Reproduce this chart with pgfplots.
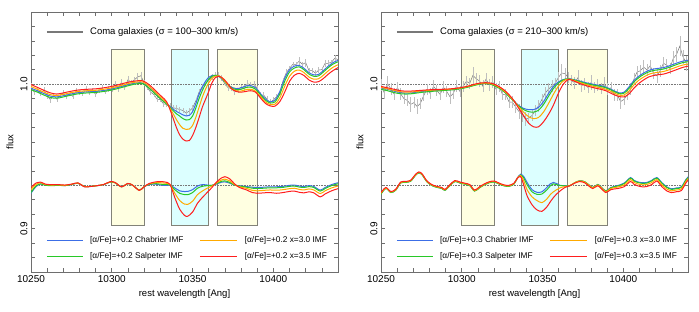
\documentclass[border=0pt]{standalone}
\usepackage{fontspec}
\setmainfont{Liberation Sans}
\usepackage{pgfplots}
\usepackage{pgfplotstable}
\pgfplotsset{compat=1.18}
\definecolor{mblue}{RGB}{60,110,230}
\definecolor{mgreen}{RGB}{40,200,40}
\definecolor{morange}{RGB}{255,170,0}
\definecolor{mred}{RGB}{255,30,30}
\definecolor{dgray}{RGB}{120,120,120}
\definecolor{egray}{RGB}{190,190,190}
\definecolor{yfill}{RGB}{255,255,225}
\definecolor{cfill}{RGB}{220,255,255}
\definecolor{redge}{RGB}{130,130,120}
\definecolor{framecol}{RGB}{110,110,110}

\pgfplotstableread{
x b g o r
10250 0.9972 0.9962 0.9985 0.9998
10254 0.9955 0.9945 0.9965 0.9978
10258 0.9935 0.9925 0.9945 0.9958
10262 0.9918 0.9908 0.9928 0.9940
10266 0.9912 0.9903 0.9922 0.9932
10270 0.9920 0.9912 0.9930 0.9940
10275 0.9933 0.9925 0.9942 0.9952
10280 0.9943 0.9935 0.9951 0.9961
10285 0.9947 0.9940 0.9955 0.9965
10290 0.9950 0.9943 0.9958 0.9968
10295 0.9957 0.9950 0.9965 0.9975
10300 0.9967 0.9960 0.9975 0.9985
10304 0.9978 0.9971 0.9986 0.9996
10308 0.9990 0.9983 0.9998 1.0008
10312 1.0002 0.9995 1.0009 1.0018
10316 1.0010 1.0004 1.0016 1.0024
10319 1.0008 1.0004 1.0016 1.0024
10322 0.9985 0.9982 0.9996 1.0006
10325 0.9955 0.9952 0.9966 0.9978
10328 0.9922 0.9920 0.9933 0.9945
10331 0.9893 0.9890 0.9902 0.9913
10334 0.9865 0.9862 0.9870 0.9878
10337 0.9835 0.9828 0.9815 0.9795
10340 0.9812 0.9795 0.9755 0.9700
10342 0.9800 0.9780 0.9720 0.9650
10344 0.9788 0.9762 0.9695 0.9620
10346 0.9780 0.9752 0.9687 0.9607
10348 0.9785 0.9755 0.9690 0.9610
10350 0.9810 0.9780 0.9715 0.9645
10352 0.9865 0.9835 0.9770 0.9700
10354 0.9930 0.9900 0.9840 0.9768
10356 0.9980 0.9955 0.9910 0.9840
10358 1.0020 1.0000 0.9965 0.9895
10360 1.0048 1.0035 1.0010 0.9950
10362 1.0060 1.0055 1.0040 1.0010
10364 1.0062 1.0062 1.0055 1.0045
10366 1.0055 1.0058 1.0058 1.0055
10368 1.0038 1.0042 1.0045 1.0048
10371 1.0005 1.0005 1.0008 1.0015
10374 0.9980 0.9975 0.9970 0.9970
10377 0.9970 0.9963 0.9955 0.9950
10380 0.9975 0.9965 0.9953 0.9945
10383 0.9988 0.9977 0.9962 0.9950
10386 0.9990 0.9980 0.9965 0.9955
10389 0.9975 0.9965 0.9952 0.9945
10392 0.9935 0.9927 0.9915 0.9905
10395 0.9898 0.9890 0.9878 0.9868
10398 0.9878 0.9870 0.9860 0.9850
10401 0.9890 0.9878 0.9862 0.9848
10404 0.9950 0.9932 0.9905 0.9880
10407 1.0040 1.0020 0.9985 0.9945
10410 1.0100 1.0085 1.0055 1.0020
10413 1.0125 1.0112 1.0090 1.0062
10416 1.0130 1.0120 1.0098 1.0075
10419 1.0110 1.0100 1.0080 1.0060
10422 1.0080 1.0070 1.0050 1.0030
10425 1.0065 1.0055 1.0035 1.0015
10428 1.0068 1.0058 1.0038 1.0018
10431 1.0095 1.0085 1.0063 1.0040
10434 1.0125 1.0115 1.0093 1.0070
10437 1.0150 1.0140 1.0118 1.0095
10440 1.0165 1.0155 1.0135 1.0115
}\LU

\pgfplotstableread{
x b g o r
10250 0.9245 0.9250 0.9270 0.9285
10253 0.9290 0.9295 0.9305 0.9315
10256 0.9310 0.9310 0.9318 0.9322
10259 0.9302 0.9300 0.9305 0.9308
10263 0.9300 0.9298 0.9302 0.9305
10267 0.9302 0.9300 0.9303 0.9305
10271 0.9298 0.9298 0.9300 0.9302
10275 0.9305 0.9305 0.9307 0.9308
10279 0.9315 0.9315 0.9316 0.9317
10283 0.9292 0.9292 0.9292 0.9290
10287 0.9293 0.9293 0.9293 0.9292
10291 0.9298 0.9298 0.9298 0.9298
10295 0.9305 0.9305 0.9306 0.9306
10299 0.9323 0.9323 0.9324 0.9325
10302 0.9318 0.9318 0.9319 0.9320
10306 0.9290 0.9290 0.9290 0.9290
10310 0.9312 0.9312 0.9313 0.9313
10313 0.9300 0.9300 0.9300 0.9300
10317 0.9267 0.9267 0.9266 0.9265
10320 0.9290 0.9290 0.9290 0.9290
10323 0.9305 0.9307 0.9310 0.9312
10327 0.9308 0.9312 0.9318 0.9324
10330 0.9302 0.9308 0.9318 0.9326
10333 0.9300 0.9306 0.9315 0.9323
10336 0.9300 0.9302 0.9305 0.9307
10339 0.9282 0.9270 0.9245 0.9215
10342 0.9262 0.9245 0.9195 0.9135
10345 0.9257 0.9236 0.9170 0.9092
10347 0.9258 0.9235 0.9168 0.9086
10350 0.9270 0.9250 0.9190 0.9115
10353 0.9295 0.9280 0.9235 0.9175
10356 0.9305 0.9293 0.9260 0.9215
10359 0.9302 0.9298 0.9280 0.9250
10362 0.9300 0.9300 0.9295 0.9285
10365 0.9310 0.9313 0.9318 0.9325
10368 0.9322 0.9328 0.9338 0.9352
10370 0.9324 0.9331 0.9343 0.9360
10373 0.9315 0.9320 0.9330 0.9345
10376 0.9302 0.9302 0.9305 0.9310
10379 0.9297 0.9295 0.9290 0.9285
10383 0.9292 0.9288 0.9280 0.9270
10387 0.9287 0.9280 0.9265 0.9250
10390 0.9285 0.9278 0.9262 0.9245
10394 0.9287 0.9280 0.9265 0.9248
10398 0.9290 0.9283 0.9268 0.9250
10402 0.9290 0.9283 0.9266 0.9245
10406 0.9293 0.9286 0.9270 0.9250
10410 0.9300 0.9293 0.9277 0.9258
10413 0.9302 0.9295 0.9280 0.9260
10416 0.9295 0.9288 0.9272 0.9252
10419 0.9292 0.9285 0.9268 0.9248
10422 0.9298 0.9291 0.9275 0.9255
10425 0.9292 0.9285 0.9268 0.9248
10429 0.9267 0.9260 0.9243 0.9220
10432 0.9285 0.9278 0.9262 0.9240
10436 0.9305 0.9298 0.9282 0.9262
10440 0.9318 0.9311 0.9295 0.9277
}\LL

\pgfplotstableread{
x y e
10250 0.9987 0.0018
10252 0.9944 0.0022
10254 0.9960 0.0015
10256 0.9935 0.0020
10258 0.9960 0.0018
10260 0.9921 0.0022
10262 0.9893 0.0020
10264 0.9925 0.0015
10266 0.9897 0.0020
10268 0.9921 0.0018
10270 0.9940 0.0022
10272 0.9915 0.0015
10274 0.9935 0.0020
10276 0.9915 0.0018
10278 0.9954 0.0020
10280 0.9943 0.0015
10282 0.9935 0.0020
10284 0.9966 0.0022
10286 0.9943 0.0018
10288 0.9959 0.0015
10290 0.9930 0.0020
10292 0.9958 0.0018
10294 0.9971 0.0022
10296 0.9944 0.0015
10298 0.9968 0.0020
10300 0.9962 0.0018
10302 0.9997 0.0022
10304 0.9968 0.0020
10306 1.0014 0.0025
10308 0.9975 0.0018
10310 1.0031 0.0025
10312 1.0012 0.0020
10314 1.0031 0.0022
10316 1.0050 0.0025
10318 1.0059 0.0028
10320 1.0010 0.0020
10322 0.9975 0.0018
10324 0.9945 0.0020
10326 0.9929 0.0015
10328 0.9897 0.0020
10330 0.9893 0.0018
10332 0.9864 0.0022
10334 0.9860 0.0020
10336 0.9850 0.0018
10338 0.9837 0.0020
10340 0.9832 0.0022
10342 0.9825 0.0018
10344 0.9818 0.0020
10346 0.9800 0.0022
10348 0.9815 0.0018
10350 0.9835 0.0020
10352 0.9885 0.0018
10354 0.9945 0.0020
10356 0.9985 0.0015
10358 1.0005 0.0020
10360 1.0028 0.0018
10362 1.0050 0.0020
10364 1.0062 0.0022
10366 1.0065 0.0018
10368 1.0043 0.0020
10370 1.0001 0.0015
10372 0.9976 0.0020
10374 0.9970 0.0018
10376 0.9948 0.0022
10378 0.9957 0.0020
10380 0.9980 0.0015
10382 0.9974 0.0020
10384 1.0004 0.0022
10386 0.9995 0.0018
10388 1.0000 0.0020
10390 0.9972 0.0015
10392 0.9925 0.0020
10394 0.9925 0.0018
10396 0.9896 0.0020
10398 0.9873 0.0022
10400 0.9892 0.0018
10402 0.9915 0.0020
10404 0.9940 0.0015
10406 1.0025 0.0020
10408 1.0080 0.0022
10410 1.0110 0.0018
10412 1.0137 0.0020
10414 1.0137 0.0018
10416 1.0160 0.0025
10418 1.0137 0.0020
10420 1.0150 0.0028
10422 1.0095 0.0020
10424 1.0095 0.0018
10426 1.0076 0.0020
10428 1.0098 0.0022
10430 1.0101 0.0018
10432 1.0145 0.0025
10434 1.0145 0.0020
10436 1.0152 0.0018
10438 1.0180 0.0025
10440 1.0170 0.0020
}\LD

\pgfplotstableread{
x b g o r
10250.0 0.9975 0.9965 0.9978 0.9985
10254.1 0.9965 0.9955 0.9968 0.9975
10258.1 0.9952 0.9942 0.9957 0.9965
10262.2 0.9942 0.9934 0.9948 0.9955
10266.3 0.9938 0.9932 0.9945 0.9952
10270.3 0.9942 0.9936 0.9948 0.9954
10275.4 0.9950 0.9944 0.9954 0.9958
10280.5 0.9955 0.9950 0.9958 0.9962
10285.6 0.9958 0.9954 0.9961 0.9964
10290.6 0.9961 0.9958 0.9964 0.9966
10295.7 0.9966 0.9963 0.9969 0.9971
10300.8 0.9975 0.9972 0.9977 0.9979
10304.9 0.9986 0.9983 0.9988 0.9990
10308.9 0.9998 0.9995 1.0000 1.0003
10313.0 1.0006 1.0004 1.0008 1.0010
10317.1 1.0004 1.0002 1.0006 1.0009
10320.1 0.9993 0.9990 0.9996 1.0000
10323.2 0.9975 0.9972 0.9978 0.9983
10326.2 0.9950 0.9948 0.9954 0.9960
10329.2 0.9918 0.9916 0.9922 0.9928
10332.3 0.9884 0.9882 0.9884 0.9886
10335.3 0.9852 0.9848 0.9842 0.9832
10338.4 0.9832 0.9824 0.9805 0.9780
10341.4 0.9824 0.9810 0.9775 0.9730
10344.5 0.9825 0.9807 0.9762 0.9705
10347.5 0.9840 0.9820 0.9770 0.9705
10350.6 0.9880 0.9860 0.9808 0.9740
10353.6 0.9935 0.9915 0.9865 0.9790
10356.7 0.9985 0.9970 0.9930 0.9855
10359.7 1.0015 1.0007 0.9985 0.9935
10362.8 1.0032 1.0030 1.0022 1.0000
10365.8 1.0038 1.0037 1.0036 1.0032
10368.9 1.0033 1.0031 1.0028 1.0025
10372.9 1.0022 1.0018 1.0012 1.0005
10377.0 1.0010 1.0005 0.9998 0.9990
10381.1 1.0000 0.9995 0.9986 0.9977
10385.1 0.9992 0.9987 0.9977 0.9967
10389.2 0.9980 0.9975 0.9965 0.9955
10393.3 0.9960 0.9955 0.9945 0.9932
10397.3 0.9940 0.9935 0.9925 0.9915
10400.4 0.9945 0.9938 0.9925 0.9912
10403.4 0.9980 0.9970 0.9952 0.9932
10406.5 1.0025 1.0015 0.9995 0.9972
10409.5 1.0055 1.0045 1.0027 1.0005
10412.6 1.0078 1.0068 1.0050 1.0030
10415.6 1.0095 1.0085 1.0068 1.0050
10418.7 1.0105 1.0095 1.0078 1.0060
10421.7 1.0110 1.0100 1.0083 1.0066
10424.8 1.0115 1.0105 1.0088 1.0070
10427.8 1.0125 1.0115 1.0098 1.0080
10430.8 1.0137 1.0127 1.0110 1.0092
10433.9 1.0150 1.0140 1.0123 1.0105
10436.9 1.0160 1.0150 1.0133 1.0117
10440.0 1.0166 1.0156 1.0140 1.0125
}\RU

\pgfplotstableread{
x b g o r
10250.0 0.9242 0.9239 0.9245 0.9250
10253.0 0.9280 0.9278 0.9282 0.9285
10256.1 0.9252 0.9250 0.9254 0.9257
10259.1 0.9268 0.9266 0.9270 0.9273
10262.2 0.9318 0.9316 0.9320 0.9323
10265.2 0.9322 0.9320 0.9324 0.9327
10268.3 0.9330 0.9328 0.9332 0.9335
10271.3 0.9370 0.9368 0.9372 0.9375
10273.4 0.9388 0.9386 0.9390 0.9393
10275.4 0.9375 0.9373 0.9377 0.9380
10278.4 0.9326 0.9324 0.9328 0.9331
10281.5 0.9300 0.9298 0.9302 0.9305
10284.5 0.9288 0.9286 0.9290 0.9293
10287.6 0.9280 0.9278 0.9282 0.9285
10289.6 0.9267 0.9265 0.9269 0.9272
10292.7 0.9300 0.9298 0.9302 0.9305
10295.7 0.9328 0.9326 0.9330 0.9333
10298.8 0.9318 0.9316 0.9320 0.9323
10301.8 0.9310 0.9308 0.9312 0.9315
10304.9 0.9300 0.9298 0.9302 0.9305
10307.9 0.9262 0.9260 0.9264 0.9267
10311.0 0.9285 0.9283 0.9287 0.9290
10314.0 0.9305 0.9303 0.9307 0.9310
10317.1 0.9320 0.9318 0.9322 0.9325
10320.1 0.9325 0.9323 0.9327 0.9330
10323.2 0.9310 0.9308 0.9312 0.9315
10326.2 0.9298 0.9296 0.9300 0.9303
10329.2 0.9295 0.9293 0.9297 0.9300
10332.3 0.9310 0.9308 0.9312 0.9315
10334.3 0.9350 0.9347 0.9348 0.9348
10336.4 0.9377 0.9372 0.9368 0.9360
10338.4 0.9360 0.9350 0.9330 0.9300
10340.4 0.9320 0.9305 0.9270 0.9228
10343.5 0.9270 0.9255 0.9220 0.9165
10346.5 0.9252 0.9238 0.9195 0.9130
10349.6 0.9255 0.9240 0.9180 0.9120
10352.6 0.9285 0.9268 0.9205 0.9150
10354.7 0.9310 0.9295 0.9235 0.9185
10356.7 0.9320 0.9310 0.9255 0.9215
10358.7 0.9312 0.9305 0.9270 0.9240
10360.7 0.9300 0.9298 0.9282 0.9260
10363.8 0.9298 0.9297 0.9292 0.9285
10366.8 0.9297 0.9297 0.9297 0.9297
10369.9 0.9318 0.9318 0.9318 0.9315
10372.9 0.9331 0.9331 0.9330 0.9326
10376.0 0.9325 0.9325 0.9323 0.9318
10379.0 0.9300 0.9300 0.9298 0.9292
10381.1 0.9285 0.9285 0.9283 0.9278
10384.1 0.9306 0.9305 0.9302 0.9297
10386.1 0.9290 0.9289 0.9286 0.9280
10389.2 0.9262 0.9260 0.9256 0.9250
10392.2 0.9285 0.9283 0.9278 0.9270
10396.3 0.9298 0.9295 0.9288 0.9278
10400.4 0.9315 0.9311 0.9302 0.9290
10404.4 0.9354 0.9350 0.9340 0.9327
10406.5 0.9335 0.9331 0.9321 0.9308
10408.5 0.9325 0.9321 0.9311 0.9298
10411.5 0.9318 0.9314 0.9304 0.9290
10414.6 0.9320 0.9316 0.9306 0.9292
10417.6 0.9335 0.9331 0.9320 0.9306
10420.7 0.9354 0.9350 0.9340 0.9330
10423.7 0.9320 0.9316 0.9305 0.9292
10426.8 0.9290 0.9286 0.9275 0.9262
10429.8 0.9276 0.9272 0.9262 0.9250
10432.9 0.9282 0.9278 0.9268 0.9256
10435.9 0.9290 0.9286 0.9276 0.9264
10439.0 0.9345 0.9341 0.9332 0.9322
10441.0 0.9366 0.9362 0.9355 0.9345
}\RL

\pgfplotstableread{
x y e
10250.0 0.9995 0.004
10252.0 0.9940 0.004
10254.1 1.0005 0.005
10256.1 0.9968 0.004
10258.1 0.9932 0.004
10260.2 0.9977 0.004
10262.2 0.9932 0.004
10264.2 0.9900 0.004
10266.3 0.9888 0.004
10268.3 0.9860 0.005
10270.3 0.9872 0.004
10272.4 0.9845 0.005
10274.4 0.9868 0.004
10276.4 0.9921 0.004
10278.4 0.9963 0.004
10280.5 0.9935 0.004
10282.5 0.9986 0.004
10284.5 0.9957 0.004
10286.6 0.9929 0.004
10288.6 0.9980 0.004
10290.6 0.9951 0.004
10292.7 0.9913 0.005
10294.7 0.9935 0.004
10296.7 0.9988 0.004
10298.8 0.9951 0.004
10300.8 0.9985 0.004
10302.8 1.0020 0.004
10304.9 1.0006 0.004
10306.9 1.0062 0.006
10308.9 1.0038 0.004
10311.0 1.0022 0.004
10313.0 0.9986 0.004
10315.0 1.0035 0.004
10317.1 0.9994 0.004
10319.1 1.0017 0.004
10321.1 0.9967 0.004
10323.2 0.9985 0.004
10325.2 0.9928 0.004
10327.2 0.9930 0.004
10329.2 0.9878 0.004
10331.3 0.9875 0.004
10333.3 0.9843 0.004
10335.3 0.9812 0.005
10337.4 0.9788 0.005
10339.4 0.9759 0.005
10341.4 0.9764 0.004
10343.5 0.9784 0.004
10345.5 0.9819 0.004
10347.5 0.9850 0.004
10349.6 0.9895 0.004
10351.6 0.9938 0.004
10353.6 0.9965 0.004
10355.7 0.9988 0.004
10357.7 1.0005 0.004
10359.7 1.0045 0.004
10361.8 1.0077 0.006
10363.8 1.0074 0.004
10365.8 1.0048 0.004
10367.9 1.0025 0.004
10369.9 1.0010 0.004
10371.9 1.0045 0.005
10374.0 0.9989 0.004
10376.0 1.0003 0.004
10378.0 0.9978 0.004
10380.0 1.0012 0.005
10382.1 0.9978 0.004
10384.1 0.9994 0.004
10386.1 0.9969 0.004
10388.2 1.0003 0.005
10390.2 0.9965 0.004
10392.2 0.9975 0.004
10394.3 0.9925 0.004
10396.3 0.9925 0.004
10398.3 0.9880 0.005
10400.4 0.9895 0.004
10402.4 0.9928 0.004
10404.4 0.9965 0.004
10406.5 1.0035 0.004
10408.5 1.0085 0.004
10410.5 1.0093 0.004
10412.6 1.0118 0.005
10414.6 1.0099 0.004
10416.6 1.0128 0.004
10418.7 1.0075 0.004
10420.7 1.0058 0.005
10422.7 1.0092 0.004
10424.8 1.0145 0.004
10426.8 1.0132 0.004
10428.8 1.0109 0.004
10430.8 1.0177 0.005
10432.9 1.0206 0.005
10434.9 1.0263 0.007
10436.9 1.0190 0.005
10439.0 1.0144 0.005
10441.0 1.0127 0.005
}\RD

\pgfplotsset{
  panel/.style={
    scale only axis, width=307pt, height=260pt,
    xmin=10250, xmax=10440, ymin=0.87, ymax=1.05,
    xtick={10250,10300,10350,10400},
    minor xtick={10260,10270,...,10430},
    scaled x ticks=false, scaled y ticks=false,
    ytick={0.9,1.0},
    minor ytick={0.88,0.89,0.91,0.92,0.93,0.94,0.95,0.96,0.97,0.98,0.99,1.01,1.02,1.03,1.04},
    tick align=inside,
    major tick length=4pt, minor tick length=4pt,
    axis line style={framecol, line width=0.7pt},
    every tick/.style={framecol, line width=0.6pt},
    tick label style={font=\fontsize{10}{12}\selectfont},
    x tick label style={/pgf/number format/1000 sep={}},
    y tick label style={rotate=90, anchor=south, /pgf/number format/.cd, fixed, fixed zerofill, precision=1},
    /pgf/number format/assume math mode=true,
    xlabel={rest wavelength [Ang]}, ylabel={flux},
    label style={font=\fontsize{9.5}{11}\selectfont},
  },
  mline/.style={line width=1pt, smooth},
  dline/.style={dgray, line width=0.5pt},
  ebars/.style={error bars/.cd, y dir=both, y explicit, error mark=none,
    error bar style={egray, line width=0.5pt}},
}
\tikzset{
  legtop/.style={anchor=west, inner sep=0pt, font=\fontsize{9.5}{11}\selectfont},
  legbot/.style={anchor=west, inner sep=0pt, font=\fontsize{8.3}{9.5}\selectfont},
}

\begin{document}
\begin{tikzpicture}
\path[use as bounding box] (0,0) rectangle (699pt,311pt);
% ---------- left panel
\begin{axis}[panel, at={(31pt,39pt)}, anchor=south west]
\filldraw[fill=yfill, draw=redge, line width=0.6pt] (10300,0.902) rectangle (10320,1.0245);
\filldraw[fill=cfill, draw=redge, line width=0.6pt] (10337,0.902) rectangle (10360,1.0245);
\filldraw[fill=yfill, draw=redge, line width=0.6pt] (10365,0.902) rectangle (10390,1.0245);
\draw[dgray, densely dotted, line width=0.6pt] (10250,1.0) -- (10440,1.0);
\draw[dgray, densely dotted, line width=0.6pt] (10250,0.93) -- (10440,0.93);
\addplot[dline, ebars] table[x=x, y=y, y error=e] {\LD};
\addplot[mline, mblue] table[x=x, y=b] {\LU};
\addplot[mline, mblue] table[x=x, y=b] {\LL};
\addplot[mline, mgreen] table[x=x, y=g] {\LU};
\addplot[mline, mgreen] table[x=x, y=g] {\LL};
\addplot[mline, morange] table[x=x, y=o] {\LU};
\addplot[mline, morange] table[x=x, y=o] {\LL};
\addplot[mline, mred] table[x=x, y=r] {\LU};
\addplot[mline, mred] table[x=x, y=r] {\LL};
% legend
\draw[dgray, line width=1.8pt] (rel axis cs:0.052,0.923) -- (rel axis cs:0.169,0.923);
\node[legtop] at (rel axis cs:0.192,0.923) {Coma galaxies (σ = 100–300 km/s)};
\draw[mblue, line width=1pt] (rel axis cs:0.052,0.1204) -- (rel axis cs:0.169,0.1204);
\node[legbot] at (rel axis cs:0.192,0.1204) {[α/Fe]=+0.2 Chabrier IMF};
\draw[mgreen, line width=1pt] (rel axis cs:0.052,0.0615) -- (rel axis cs:0.169,0.0615);
\node[legbot] at (rel axis cs:0.192,0.0615) {[α/Fe]=+0.2 Salpeter IMF};
\draw[morange, line width=1pt] (rel axis cs:0.550,0.1204) -- (rel axis cs:0.670,0.1204);
\node[legbot] at (rel axis cs:0.696,0.1204) {[α/Fe]=+0.2 x=3.0 IMF};
\draw[mred, line width=1pt] (rel axis cs:0.550,0.0615) -- (rel axis cs:0.670,0.0615);
\node[legbot] at (rel axis cs:0.696,0.0615) {[α/Fe]=+0.2 x=3.5 IMF};
\end{axis}
% ---------- right panel
\begin{axis}[panel, at={(381pt,39pt)}, anchor=south west]
\filldraw[fill=yfill, draw=redge, line width=0.6pt] (10300,0.902) rectangle (10320,1.0245);
\filldraw[fill=cfill, draw=redge, line width=0.6pt] (10337,0.902) rectangle (10360,1.0245);
\filldraw[fill=yfill, draw=redge, line width=0.6pt] (10365,0.902) rectangle (10390,1.0245);
\draw[dgray, densely dotted, line width=0.6pt] (10250,1.0) -- (10440,1.0);
\draw[dgray, densely dotted, line width=0.6pt] (10250,0.93) -- (10440,0.93);
\addplot[dline, ebars] table[x=x, y=y, y error=e] {\RD};
\addplot[mline, mblue] table[x=x, y=b] {\RU};
\addplot[mline, mblue] table[x=x, y=b] {\RL};
\addplot[mline, mgreen] table[x=x, y=g] {\RU};
\addplot[mline, mgreen] table[x=x, y=g] {\RL};
\addplot[mline, morange] table[x=x, y=o] {\RU};
\addplot[mline, morange] table[x=x, y=o] {\RL};
\addplot[mline, mred] table[x=x, y=r] {\RU};
\addplot[mline, mred] table[x=x, y=r] {\RL};
% legend
\draw[dgray, line width=1.8pt] (rel axis cs:0.052,0.923) -- (rel axis cs:0.169,0.923);
\node[legtop] at (rel axis cs:0.192,0.923) {Coma galaxies (σ = 210–300 km/s)};
\draw[mblue, line width=1pt] (rel axis cs:0.052,0.1204) -- (rel axis cs:0.169,0.1204);
\node[legbot] at (rel axis cs:0.192,0.1204) {[α/Fe]=+0.3 Chabrier IMF};
\draw[mgreen, line width=1pt] (rel axis cs:0.052,0.0615) -- (rel axis cs:0.169,0.0615);
\node[legbot] at (rel axis cs:0.192,0.0615) {[α/Fe]=+0.3 Salpeter IMF};
\draw[morange, line width=1pt] (rel axis cs:0.550,0.1204) -- (rel axis cs:0.670,0.1204);
\node[legbot] at (rel axis cs:0.696,0.1204) {[α/Fe]=+0.3 x=3.0 IMF};
\draw[mred, line width=1pt] (rel axis cs:0.550,0.0615) -- (rel axis cs:0.670,0.0615);
\node[legbot] at (rel axis cs:0.696,0.0615) {[α/Fe]=+0.3 x=3.5 IMF};
\end{axis}
\end{tikzpicture}
\end{document}
